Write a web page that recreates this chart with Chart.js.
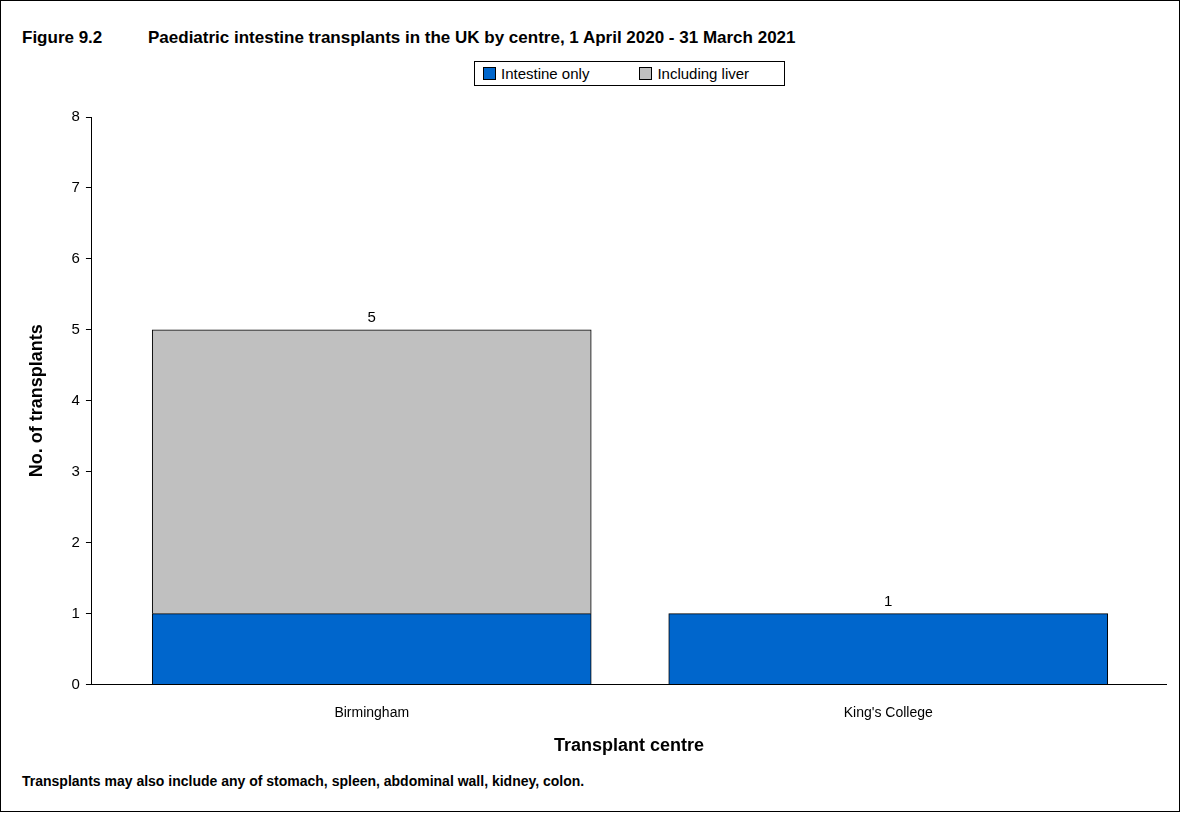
<!DOCTYPE html>
<html>
<head>
<meta charset="utf-8">
<script src="https://cdn.jsdelivr.net/npm/chart.js@4"></script>
<style>
  body { margin: 0; background: #fff; font-family: "Liberation Sans", Arial, sans-serif; }
  #frame { position: absolute; left: 0; top: 0; width: 1178px; height: 810px; border: 1px solid #000; }
  #title { position: absolute; left: 22px; top: 28px; font-size: 17px; font-weight: bold; }
  #title span { display: inline-block; width: 126px; }
  #legend { position: absolute; left: 474px; top: 61px; width: 293px; border: 1px solid #000; padding: 3px 8px; font-size: 15px; display: flex; gap: 50px; }
  #legend span.box { display: inline-block; width: 11px; height: 11px; border: 1px solid #000; margin-right: 5px; vertical-align: -1px; }
  #note { position: absolute; left: 22px; top: 773px; font-size: 14px; font-weight: bold; }
  #wrap { position: absolute; left: 0; top: 100px; width: 1184px; height: 661px; }
</style>
</head>
<body>
<div id="frame"></div>
<div id="title"><span>Figure 9.2</span>Paediatric intestine transplants in the UK by centre, 1 April 2020 - 31 March 2021</div>
<div id="legend">
  <div><span class="box" style="background:#0066cc"></span>Intestine only</div>
  <div><span class="box" style="background:#c0c0c0"></span>Including liver</div>
</div>
<div id="wrap"><canvas id="c"></canvas></div>
<div id="note">Transplants may also include any of stomach, spleen, abdominal wall, kidney, colon.</div>
<script>
const centres = ["Birmingham", "King's College"];
const intestineOnly = [1, 1];
const includingLiver = [4, 0];
const yTicks = [0, 1, 2, 3, 4, 5, 6, 7, 8];

const pts = arr => arr.map((v, i) => ({ x: i, y: v }));

const totalsPlugin = {
  id: "totals",
  afterDatasetsDraw(chart) {
    const ctx = chart.ctx;
    ctx.save();
    ctx.font = "15px 'Liberation Sans', Arial, sans-serif";
    ctx.fillStyle = "#000";
    ctx.textAlign = "center";
    ctx.textBaseline = "bottom";
    centres.forEach((c, i) => {
      const total = intestineOnly[i] + includingLiver[i];
      const x = chart.scales.x.getPixelForValue(i);
      const y = chart.scales.y.getPixelForValue(total);
      ctx.fillText(String(total), x, y - 4);
    });
    ctx.restore();
  }
};

new Chart(document.getElementById("c"), {
  type: "bar",
  data: {
    datasets: [
      { label: "Intestine only", data: pts(intestineOnly), backgroundColor: "#0066cc", borderColor: "#000", borderWidth: 1, barThickness: 439 },
      { label: "Including liver", data: pts(includingLiver), backgroundColor: "#c0c0c0", borderColor: "#000", borderWidth: 1, barThickness: 439 }
    ]
  },
  options: {
    responsive: true,
    maintainAspectRatio: false,
    animation: false,
    layout: { padding: { left: 22, right: 18, top: 17, bottom: 0 } },
    plugins: { legend: { display: false }, tooltip: { enabled: false } },
    scales: {
      x: {
        type: "linear",
        stacked: true,
        min: -0.5417, max: 1.5378,
        offset: false,
        afterBuildTicks(axis) { axis.ticks = centres.map((c, i) => ({ value: i })); },
        grid: { display: false },
        border: { color: "#000" },
        ticks: { color: "#000", font: { size: 14, family: "'Liberation Sans', Arial" }, padding: 12, callback: v => centres[v] },
        title: { display: true, text: "Transplant centre", color: "#000", font: { size: 18, weight: "bold", family: "'Liberation Sans', Arial" }, padding: { top: 2 } }
      },
      y: {
        stacked: true,
        min: 0, max: 8,
        afterBuildTicks(axis) { axis.ticks = yTicks.map(v => ({ value: v })); },
        grid: { display: true, drawOnChartArea: false, color: "#000", tickLength: 6 },
        border: { color: "#000" },
        ticks: { color: "#000", font: { size: 15, family: "'Liberation Sans', Arial" }, padding: 6 },
        title: { display: true, text: "No. of transplants", color: "#000", font: { size: 18, weight: "bold", family: "'Liberation Sans', Arial" }, padding: { bottom: 18 } }
      }
    }
  },
  plugins: [totalsPlugin]
});
</script>
</body>
</html>
